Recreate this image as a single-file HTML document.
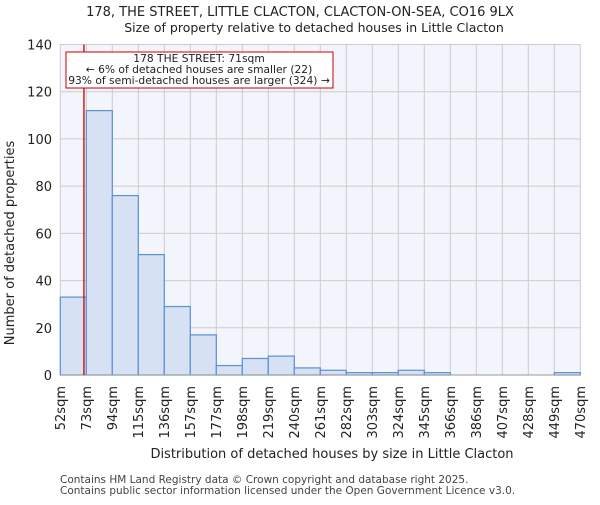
<!DOCTYPE html>
<html><head><meta charset="utf-8"><style>
body{margin:0;background:#fff;}
svg{font-family:"DejaVu Sans","Liberation Sans",sans-serif;}
</style></head><body>
<svg id="chart" width="600" height="500">
<text x="300" y="16" text-anchor="middle" font-size="13" fill="#222">178, THE STREET, LITTLE CLACTON, CLACTON-ON-SEA, CO16 9LX</text>
<text x="314" y="32" text-anchor="middle" font-size="12.5" fill="#222">Size of property relative to detached houses in Little Clacton</text>
<rect x="60.3" y="44.5" width="520" height="330.5" fill="#f2f5fc"/>
<g id="grid"></g>
<g id="bars"></g>
<g id="ticks"></g>
<line x1="60.3" y1="375" x2="580.3" y2="375" stroke="#999"/>
<text x="14" y="243" text-anchor="middle" font-size="13" fill="#222" transform="rotate(-90 14 243)">Number of detached properties</text>
<text x="332" y="458" text-anchor="middle" font-size="13" fill="#222">Distribution of detached houses by size in Little Clacton</text>
<text x="60" y="483" font-size="10.5" fill="#444">Contains HM Land Registry data © Crown copyright and database right 2025.</text>
<text x="60" y="494" font-size="10.5" fill="#444">Contains public sector information licensed under the Open Government Licence v3.0.</text>
<g id="marker"></g>
<rect x="66" y="52" width="267" height="36" fill="#fff" stroke="#cc0000"/>
<text x="199" y="62" text-anchor="middle" font-size="10.7" fill="#222">178 THE STREET: 71sqm</text>
<text x="199" y="73" text-anchor="middle" font-size="10.7" fill="#222">← 6% of detached houses are smaller (22)</text>
<text x="199" y="84" text-anchor="middle" font-size="10.7" fill="#222">93% of semi-detached houses are larger (324) →</text>
</svg>
<script>
const binLabels=["52sqm","73sqm","94sqm","115sqm","136sqm","157sqm","177sqm","198sqm","219sqm","240sqm","261sqm","282sqm","303sqm","324sqm","345sqm","366sqm","386sqm","407sqm","428sqm","449sqm","470sqm"];
const counts=[33,112,76,51,29,17,4,7,8,3,2,1,1,2,1,0,0,0,0,1];
const yTicks=[0,20,40,60,80,100,120,140];
const markerValue=71;
const binStart=52, binWidth=20.9;
const NS="http://www.w3.org/2000/svg";
const x0=60.3,x1=580.3,y0=375,y1=44.5,yMax=140;
const nb=counts.length;
const xBin=i=>x0+(x1-x0)*i/nb;
const yS=v=>y0-(y0-y1)*v/yMax;
function mk(t,a,p){const e=document.createElementNS(NS,t);for(const k in a)e.setAttribute(k,a[k]);p.appendChild(e);return e;}
const grid=document.getElementById('grid'),bars=document.getElementById('bars'),ticks=document.getElementById('ticks');
yTicks.forEach(v=>{
 const l=mk('line',{x1:x0,x2:x1,y1:yS(v),y2:yS(v),stroke:'#cccccc'},grid);
 
 
 const t=mk('text',{x:52,y:yS(v)+5,'text-anchor':'end','font-size':13,fill:'#222'},ticks);
 t.textContent=v;
 
 
});
for(let i=0;i<=nb;i++){
 const l=mk('line',{x1:xBin(i),x2:xBin(i),y1:y1,y2:y0,stroke:'#cccccc'},grid);
 
 
}
counts.forEach((c,i)=>{
 if(c<=0)return;
 const r=mk('rect',{x:xBin(i),y:yS(c),width:xBin(i+1)-xBin(i),height:y0-yS(c),fill:'#d6e1f3',stroke:'#5b8fd9','stroke-width':1.2},bars);
 
 
});
binLabels.forEach((s,i)=>{
 const x=xBin(i)+4.5,y=386;
 const t=mk('text',{x:x,y:y,'text-anchor':'end','font-size':13,fill:'#222',transform:`rotate(-90 ${x} ${y})`},ticks);
 t.textContent=s;
 
 
});
const mx=x0+(markerValue-binStart)/binWidth*(x1-x0)/nb;
const ml=mk('line',{x1:mx,x2:mx,y1:y1,y2:y0,stroke:'#cc0000','stroke-width':1.3},document.getElementById('marker'));


</script>
</body></html>
